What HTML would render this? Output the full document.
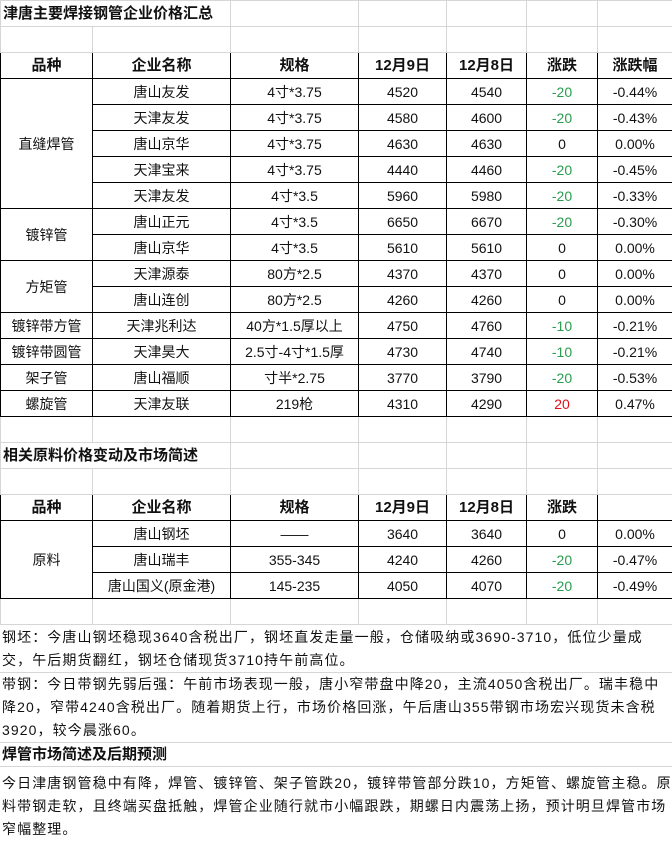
<!DOCTYPE html>
<html><head><meta charset="utf-8"><style>
*{margin:0;padding:0;box-sizing:border-box}
body{width:672px;height:843px;background:#fff;font-family:"Liberation Sans","Noto Sans CJK SC",sans-serif;font-size:14px;color:#111;overflow:hidden;position:relative}
table{border-collapse:collapse;table-layout:fixed;width:672px;position:absolute;left:0;top:0}
td{height:26px;border:1px solid #d6d6d6;text-align:center;white-space:nowrap;overflow:hidden;padding:0;line-height:24px}
td.b{border:1px solid #000}
tr.h td{font-weight:bold;font-size:15px}
td.t{text-align:left;font-weight:bold;font-size:15px;padding-left:2px}
.g{color:#2a9d4e}.r{color:#e0101a}
.p{position:absolute;left:0;width:672px;padding-left:2px;line-height:23px;border-bottom:1px solid #d6d6d6;white-space:nowrap;overflow:hidden;letter-spacing:1.1px}
</style></head><body>
<table>
<colgroup><col style="width:92px"><col style="width:138px"><col style="width:128px"><col style="width:88px"><col style="width:80px"><col style="width:71px"><col style="width:75px"></colgroup>
<tr><td colspan="2" class="t">津唐主要焊接钢管企业价格汇总</td><td></td><td></td><td></td><td></td><td></td></tr>
<tr><td></td><td></td><td></td><td></td><td></td><td></td><td></td></tr>
<tr class="h"><td class="b">品种</td><td class="b">企业名称</td><td class="b">规格</td><td class="b">12月9日</td><td class="b">12月8日</td><td class="b">涨跌</td><td class="b">涨跌幅</td></tr>
<tr><td class="b" rowspan="5">直缝焊管</td><td class="b">唐山友发</td><td class="b">4寸*3.75</td><td class="b">4520</td><td class="b">4540</td><td class="b g">-20</td><td class="b">-0.44%</td></tr>
<tr><td class="b">天津友发</td><td class="b">4寸*3.75</td><td class="b">4580</td><td class="b">4600</td><td class="b g">-20</td><td class="b">-0.43%</td></tr>
<tr><td class="b">唐山京华</td><td class="b">4寸*3.75</td><td class="b">4630</td><td class="b">4630</td><td class="b">0</td><td class="b">0.00%</td></tr>
<tr><td class="b">天津宝来</td><td class="b">4寸*3.75</td><td class="b">4440</td><td class="b">4460</td><td class="b g">-20</td><td class="b">-0.45%</td></tr>
<tr><td class="b">天津友发</td><td class="b">4寸*3.5</td><td class="b">5960</td><td class="b">5980</td><td class="b g">-20</td><td class="b">-0.33%</td></tr>
<tr><td class="b" rowspan="2">镀锌管</td><td class="b">唐山正元</td><td class="b">4寸*3.5</td><td class="b">6650</td><td class="b">6670</td><td class="b g">-20</td><td class="b">-0.30%</td></tr>
<tr><td class="b">唐山京华</td><td class="b">4寸*3.5</td><td class="b">5610</td><td class="b">5610</td><td class="b">0</td><td class="b">0.00%</td></tr>
<tr><td class="b" rowspan="2">方矩管</td><td class="b">天津源泰</td><td class="b">80方*2.5</td><td class="b">4370</td><td class="b">4370</td><td class="b">0</td><td class="b">0.00%</td></tr>
<tr><td class="b">唐山连创</td><td class="b">80方*2.5</td><td class="b">4260</td><td class="b">4260</td><td class="b">0</td><td class="b">0.00%</td></tr>
<tr><td class="b">镀锌带方管</td><td class="b">天津兆利达</td><td class="b">40方*1.5厚以上</td><td class="b">4750</td><td class="b">4760</td><td class="b g">-10</td><td class="b">-0.21%</td></tr>
<tr><td class="b">镀锌带圆管</td><td class="b">天津昊大</td><td class="b">2.5寸-4寸*1.5厚</td><td class="b">4730</td><td class="b">4740</td><td class="b g">-10</td><td class="b">-0.21%</td></tr>
<tr><td class="b">架子管</td><td class="b">唐山福顺</td><td class="b">寸半*2.75</td><td class="b">3770</td><td class="b">3790</td><td class="b g">-20</td><td class="b">-0.53%</td></tr>
<tr><td class="b">螺旋管</td><td class="b">天津友联</td><td class="b">219枪</td><td class="b">4310</td><td class="b">4290</td><td class="b r">20</td><td class="b">0.47%</td></tr>
<tr><td></td><td></td><td></td><td></td><td></td><td></td><td></td></tr>
<tr><td colspan="2" class="t">相关原料价格变动及市场简述</td><td></td><td></td><td></td><td></td><td></td></tr>
<tr><td></td><td></td><td></td><td></td><td></td><td></td><td></td></tr>
<tr class="h"><td class="b">品种</td><td class="b">企业名称</td><td class="b">规格</td><td class="b">12月9日</td><td class="b">12月8日</td><td class="b">涨跌</td><td class="b"></td></tr>
<tr><td class="b" rowspan="3">原料</td><td class="b">唐山钢坯</td><td class="b">——</td><td class="b">3640</td><td class="b">3640</td><td class="b">0</td><td class="b">0.00%</td></tr>
<tr><td class="b">唐山瑞丰</td><td class="b">355-345</td><td class="b">4240</td><td class="b">4260</td><td class="b g">-20</td><td class="b">-0.47%</td></tr>
<tr><td class="b">唐山国义(原金港)</td><td class="b">145-235</td><td class="b">4050</td><td class="b">4070</td><td class="b g">-20</td><td class="b">-0.49%</td></tr>
<tr><td></td><td></td><td></td><td></td><td></td><td></td><td></td></tr>
</table>
<div class="p" style="top:626px;height:47px">钢坯：今唐山钢坯稳现3640含税出厂，钢坯直发走量一般，仓储吸纳或3690-3710，低位少量成<br>交，午后期货翻红，钢坯仓储现货3710持午前高位。</div>
<div class="p" style="top:673px;height:70px">带钢：今日带钢先弱后强：午前市场表现一般，唐小窄带盘中降20，主流4050含税出厂。瑞丰稳中<br>降20，窄带4240含税出厂。随着期货上行，市场价格回涨，午后唐山355带钢市场宏兴现货未含税<br>3920，较今晨涨60。</div>
<div class="p" style="top:743px;height:24px;font-weight:bold;font-size:15px;letter-spacing:0">焊管市场简述及后期预测</div>
<div class="p" style="top:772px;height:71px;border:none">今日津唐钢管稳中有降，焊管、镀锌管、架子管跌20，镀锌带管部分跌10，方矩管、螺旋管主稳。原<br>料带钢走软，且终端买盘抵触，焊管企业随行就市小幅跟跌，期螺日内震荡上扬，预计明旦焊管市场<br>窄幅整理。</div>
</body></html>
